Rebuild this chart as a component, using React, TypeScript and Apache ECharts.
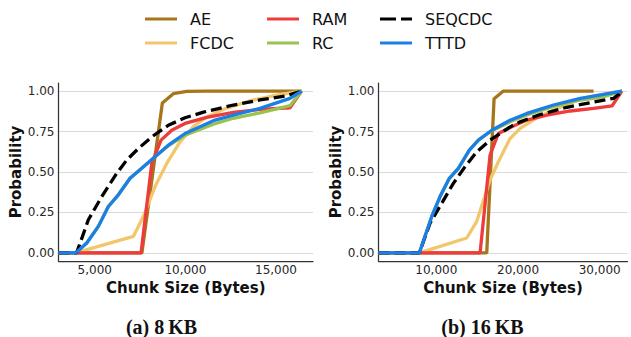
import { useEffect, useRef } from 'react';
import * as echarts from 'echarts';

// ---- names, colours, ticks ----
const SERIES_NAMES = ['AE', 'FCDC', 'RAM', 'RC', 'SEQCDC', 'TTTD'];
const SERIES_COLORS = ['#a6761d', '#f2c66a', '#ee3b3b', '#99c24e', '#000000', '#1a7fe6'];
const X_TICKS_8 = [5000, 10000, 15000];
const X_TICKS_16 = [10000, 20000, 30000];
const Y_TICKS = [0, 0.25, 0.5, 0.75, 1];
const CAPTIONS = ['(a) 8\u2009KB', '(b) 16\u2009KB'];

// ---- (a) 8 KB ----
const AE8_X = [3000, 7600, 8729, 9335, 10070, 11180, 16410];
const AE8_Y = [0, 0, 0.926, 0.984, 0.998, 1.0, 1.0];
const FCDC8_X = [3000, 3950, 7130, 7681, 8326, 8971, 9705, 10440, 11180, 12280, 13570, 15040, 16410];
const FCDC8_Y = [0, 0, 0.102, 0.225, 0.41, 0.553, 0.686, 0.78, 0.84, 0.895, 0.94, 0.975, 1.0];
const RAM8_X = [3000, 7554, 8144, 8657, 9247, 9981, 11180, 12650, 14120, 15770, 16410];
const RAM8_Y = [0, 0, 0.553, 0.697, 0.758, 0.8, 0.838, 0.869, 0.887, 0.897, 1.0];
const RC8_X = [3000, 3950, 4559, 5199, 5750, 6302, 6947, 7592, 8326, 9060, 9981, 11543, 12646, 14116, 15771, 16410];
const RC8_Y = [0, 0, 0.061, 0.164, 0.287, 0.359, 0.461, 0.523, 0.594, 0.662, 0.728, 0.795, 0.832, 0.866, 0.91, 1.0];
const SEQ8_X = [3000, 4000, 4647, 5386, 6214, 6765, 7405, 8144, 9060, 9981, 11000, 12646, 14116, 15587, 16410];
const SEQ8_Y = [0, 0, 0.205, 0.348, 0.492, 0.574, 0.645, 0.717, 0.789, 0.835, 0.87, 0.914, 0.945, 0.971, 1.0];
const TTTD8_X = [3000, 3950, 4559, 5199, 5750, 6302, 6947, 7592, 8326, 9060, 9981, 11543, 12646, 14116, 15771, 16410];
const TTTD8_Y = [0, 0, 0.061, 0.164, 0.287, 0.359, 0.461, 0.523, 0.594, 0.666, 0.738, 0.817, 0.852, 0.893, 0.955, 1.0];

// ---- (b) 16 KB ----
const AE16_X = [2920, 16170, 17068, 18210, 20260, 29250];
const AE16_Y = [0, 0, 0.953, 1.0, 1.0, 1.0];
const FCDC16_X = [2920, 7917, 13720, 14949, 16578, 17595, 19028, 20260, 22300, 24350, 26800, 29250, 30890, 32720];
const FCDC16_Y = [0, 0, 0.092, 0.195, 0.451, 0.563, 0.707, 0.77, 0.835, 0.883, 0.934, 0.969, 0.986, 1.0];
const RAM16_X = [2920, 15354, 16578, 17595, 19240, 21080, 23530, 26390, 29250, 31500, 32720];
const RAM16_Y = [0, 0, 0.605, 0.738, 0.78, 0.821, 0.852, 0.877, 0.893, 0.908, 1.0];
const RC16_X = [2920, 7917, 9437, 10453, 11593, 12695, 14043, 15145, 16783, 19028, 21080, 24350, 27620, 30480, 32720];
const RC16_Y = [0, 0, 0.225, 0.348, 0.461, 0.523, 0.635, 0.697, 0.755, 0.81, 0.852, 0.905, 0.945, 0.965, 1.0];
const SEQ16_X = [2920, 7917, 9228, 10661, 12083, 13516, 14949, 16578, 19028, 20260, 22710, 25980, 29250, 31700, 32720];
const SEQ16_Y = [0, 0, 0.184, 0.307, 0.43, 0.533, 0.625, 0.697, 0.779, 0.81, 0.855, 0.9, 0.932, 0.955, 0.996];
const TTTD16_X = [2920, 7917, 9437, 10453, 11593, 12695, 14043, 15145, 16783, 19028, 21080, 24350, 27620, 30480, 32720];
const TTTD16_Y = [0, 0, 0.225, 0.348, 0.461, 0.523, 0.635, 0.697, 0.758, 0.82, 0.862, 0.914, 0.955, 0.979, 1.0];

const PANEL_DATA = [
  [[AE8_X, AE8_Y], [FCDC8_X, FCDC8_Y], [RAM8_X, RAM8_Y], [RC8_X, RC8_Y], [SEQ8_X, SEQ8_Y], [TTTD8_X, TTTD8_Y]],
  [[AE16_X, AE16_Y], [FCDC16_X, FCDC16_Y], [RAM16_X, RAM16_Y], [RC16_X, RC16_Y], [SEQ16_X, SEQ16_Y], [TTTD16_X, TTTD16_Y]],
];
const X_RANGES = [[3000, 17040], [2920, 33400]];
const X_TICKS = [X_TICKS_8, X_TICKS_16];

const FONT = 'DejaVu Sans';
const TEXT_COLOR = '#262626';
const DASH_ICON = 'path://M0,0H16V3H0Z M21,0H32V3H21Z';

function zip(xs: number[], ys: number[]) {
  return xs.map((x, i) => [x, ys[i]]);
}

export default function App() {
  const ref = useRef<HTMLDivElement>(null);
  useEffect(() => {
    if (!ref.current) return;
    const chart = echarts.init(ref.current, null, { renderer: 'svg' });

    const grids = [
      { left: 58.5, top: 83, width: 254.5, height: 178 },
      { left: 378.5, top: 83, width: 249, height: 178 },
    ];

    const xAxes = [0, 1].map((i) => ({
      type: 'value',
      gridIndex: i,
      min: X_RANGES[i][0],
      max: X_RANGES[i][1],
      name: 'Chunk Size (Bytes)',
      nameLocation: 'middle',
      nameGap: 14,
      nameTextStyle: { fontFamily: FONT, fontSize: 15, fontWeight: 'bold', color: '#111' },
      axisLine: { show: true, onZero: false, lineStyle: { color: '#333', width: 1.25 } },
      axisTick: { show: false, customValues: X_TICKS[i] },
      splitLine: { show: false },
      axisLabel: {
        customValues: X_TICKS[i],
        margin: 3,
        fontFamily: FONT,
        fontSize: 12,
        color: TEXT_COLOR,
        formatter: (v: number) => v.toLocaleString('en-US'),
      },
    }));

    const yAxes = [0, 1].map((i) => ({
      type: 'value',
      gridIndex: i,
      min: -0.05,
      max: 1.05,
      name: 'Probability',
      nameLocation: 'middle',
      nameGap: 31,
      nameTextStyle: { fontFamily: FONT, fontSize: 15, fontWeight: 'bold', color: '#111' },
      axisLine: { show: true, lineStyle: { color: '#333', width: 1.25 } },
      axisTick: { show: false, customValues: Y_TICKS },
      splitLine: { show: true, lineStyle: { color: '#dadada', width: 1 } },
      axisLabel: {
        customValues: Y_TICKS,
        margin: 4,
        fontFamily: FONT,
        fontSize: 12,
        color: TEXT_COLOR,
        formatter: (v: number) => v.toFixed(2),
      },
    }));

    const series: any[] = [];
    [0, 1].forEach((p) => {
      SERIES_NAMES.forEach((name, k) => {
        const [xs, ys] = PANEL_DATA[p][k];
        series.push({
          type: 'line',
          name,
          xAxisIndex: p,
          yAxisIndex: p,
          data: zip(xs, ys),
          symbol: 'none',
          color: SERIES_COLORS[k],
          lineStyle: {
            width: 3.3,
            color: SERIES_COLORS[k],
            type: name === 'SEQCDC' ? [11, 5] : 'solid',
          },
          silent: true,
        });
      });
    });

    const legendBase = {
      orient: 'vertical',
      top: 11,
      itemGap: 8,
      itemWidth: 32,
      itemHeight: 3,
      padding: 0,
      selectedMode: false,
      textStyle: { fontFamily: FONT, fontSize: 16, color: '#111', padding: [0, 0, 0, 8] },
    };
    const iconFor = (n: string) => (n === 'SEQCDC' ? DASH_ICON : 'rect');
    const legendCols = [['AE', 'FCDC'], ['RAM', 'RC'], ['SEQCDC', 'TTTD']];
    const legendLefts = [145, 267, 380];
    const legends = legendCols.map((col, i) => ({
      ...legendBase,
      left: legendLefts[i],
      data: col.map((n) => ({ name: n, icon: iconFor(n) })),
    }));

    chart.setOption({
      animation: false,
      backgroundColor: '#ffffff',
      grid: grids,
      xAxis: xAxes,
      yAxis: yAxes,
      legend: legends,
      series,
      graphic: [0, 1].map((i) => ({
        type: 'text',
        x: i === 0 ? 161.5 : 482.5,
        y: 327,
        style: {
          text: CAPTIONS[i],
          fontFamily: 'Liberation Serif',
          fontWeight: 'bold',
          fontSize: 20,
          fill: '#111',
          textAlign: 'center',
          textVerticalAlign: 'middle',
        },
      })),
    });
    return () => chart.dispose();
  }, []);
  return (
    <div
      ref={ref}
      style={{ position: 'fixed', left: 0, top: 0, width: 631, height: 337, background: '#fff' }}
    />
  );
}
